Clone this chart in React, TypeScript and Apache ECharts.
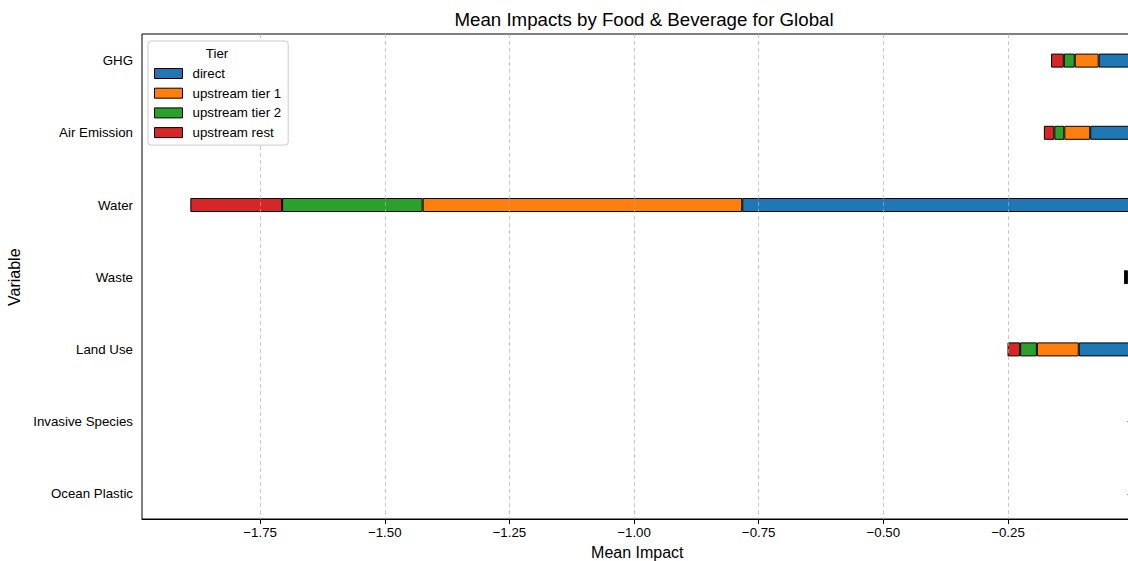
import React, { useEffect, useRef } from "react";
import * as echarts from "echarts";

const categories = ["GHG", "Air Emission", "Water", "Waste", "Land Use", "Invasive Species", "Ocean Plastic"];
const tierNames = ["direct", "upstream tier 1", "upstream tier 2", "upstream rest"];
const direct = [-0.068, -0.085, -0.783, -0.011, -0.108, null, null];
const upstreamTier1 = [-0.048, -0.052, -0.641, -0.003, -0.084, null, null];
const upstreamTier2 = [-0.022, -0.02, -0.282, -0.001, -0.0335, null, null];
const upstreamRest = [-0.0255, -0.021, -0.184, -0.0012, -0.0254, null, null];
const tickValues = [-1.75, -1.5, -1.25, -1.0, -0.75, -0.5, -0.25];
const xMin = -1.987;
const xMax = 0;

const colors = ["#1f77b4", "#ff7f0e", "#2ca02c", "#d62728"];
const FONT = "'Liberation Sans', Arial, sans-serif";
const SMALL = 13.3;
const MEDIUM = 16;
const LARGE = 18.7;

export default function App() {
  const ref = useRef<HTMLDivElement>(null);
  useEffect(() => {
    if (!ref.current) return;
    const chart = echarts.init(ref.current, null, { renderer: "svg" });
    const seriesData = [direct, upstreamTier1, upstreamTier2, upstreamRest];
    const fmt = (v: number) => (v < 0 ? "\u2212" : "") + Math.abs(v).toFixed(2);
    chart.setOption({
      animation: false,
      textStyle: { fontFamily: FONT },
      title: {
        text: "Mean Impacts by Food & Beverage for Global",
        left: 639,
        top: 5,
        textAlign: "center",
        textStyle: { fontFamily: FONT, fontSize: LARGE, fontWeight: "normal", color: "#000" },
      },
      legend: {
        data: tierNames,
        orient: "vertical",
        left: 148,
        top: 41,
        padding: [26, 7, 6, 6],
        itemWidth: 28,
        itemHeight: 10,
        itemGap: 6.7,
        icon: "rect",
        backgroundColor: "#fff",
        borderColor: "#cccccc",
        borderWidth: 1,
        borderRadius: 3,
        z: 20,
        itemStyle: { borderColor: "#000", borderWidth: 1 },
        textStyle: { fontFamily: FONT, fontSize: SMALL, color: "#000", padding: [0, 0, 0, 5] },
      },
      graphic: [
        {
          type: "text",
          x: 217,
          y: 53,
          z: 100,
          style: {
            text: "Tier",
            fontFamily: FONT,
            fontSize: SMALL,
            fill: "#000",
            textAlign: "center",
            textVerticalAlign: "middle",
          },
        },
      ],
      grid: [
        {
          left: 142,
          top: 34,
          width: 990.6,
          height: 485,
          show: true,
          borderColor: "#000",
          borderWidth: 1,
          backgroundColor: "transparent",
          containLabel: false,
          outerBoundsMode: "none",
        },
        {
          left: 142,
          top: 24.5,
          width: 990.6,
          height: 505.4,
          containLabel: false,
          outerBoundsMode: "none",
        },
      ],
      xAxis: [
        {
          gridIndex: 0,
          type: "value",
          min: xMin,
          max: xMax,
          z: 5,
          axisLine: { show: true, lineStyle: { color: "#000", width: 1 } },
          axisTick: { show: true, length: 5, lineStyle: { color: "#000" }, customValues: tickValues },
          axisLabel: {
            customValues: tickValues,
            formatter: fmt,
            fontFamily: FONT,
            fontSize: SMALL,
            color: "#000",
            margin: 7,
          },
          splitLine: {
            show: true,
            lineStyle: { color: "#b0b0b0", type: [4, 3], width: 1, opacity: 0.7 },
          },
          name: "Mean Impact",
          nameLocation: "middle",
          nameGap: 25,
          nameTextStyle: { fontFamily: FONT, fontSize: MEDIUM, color: "#000" },
        },
        {
          gridIndex: 1,
          type: "value",
          min: xMin,
          max: xMax,
          show: false,
        },
      ],
      yAxis: [
        { gridIndex: 0, type: "value", show: false },
        {
          gridIndex: 1,
          type: "category",
          data: categories,
          inverse: true,
          axisLine: { show: true, lineStyle: { color: "rgba(0,0,0,0)" } },
          axisTick: { show: true, alignWithLabel: true, length: 5, lineStyle: { color: "#000", width: 1 } },
          axisLabel: { fontFamily: FONT, fontSize: SMALL, color: "#000", margin: 9 },
          splitLine: { show: false },
          name: "Variable",
          nameLocation: "middle",
          nameGap: 110,
          nameRotate: 90,
          nameTextStyle: { fontFamily: FONT, fontSize: MEDIUM, color: "#000" },
        },
      ],
      series: tierNames.map((name, i) => ({
        name,
        type: "bar",
        stack: "total",
        xAxisIndex: 1,
        yAxisIndex: 1,
        barWidth: 14,
        data: seriesData[i],
        itemStyle: { color: colors[i], borderColor: "#000", borderWidth: 1 },
      })),
    });
    return () => chart.dispose();
  }, []);
  return <div ref={ref} style={{ position: "absolute", left: 0, top: 0, width: 1128, height: 561 }} />;
}
